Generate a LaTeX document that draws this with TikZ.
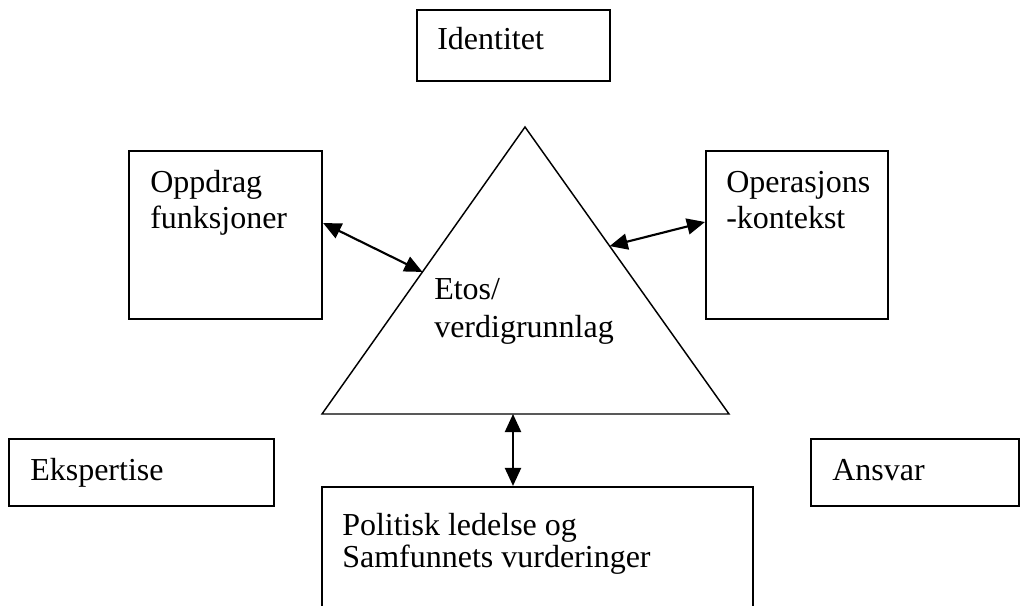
\documentclass[tikz,border=0pt]{standalone}
\usepackage{fontspec}
\setmainfont{Liberation Serif}
\usetikzlibrary{fit,arrows.meta,calc}
\begin{document}
\begin{tikzpicture}[x=0.75pt,y=-0.75pt,
  box/.style={draw,line width=1.6pt,inner sep=0pt},
  lbl/.style={anchor=base west,inner sep=0pt,font=\fontsize{24}{27}\selectfont},
  dbl/.style={line width=1.6pt,{Triangle[length=13.5pt,width=12pt]}-{Triangle[length=13.5pt,width=12pt]}}]
\clip (0,0) rectangle (1029,606);
% boxes
\node[box,fit={(417,10) (610,81)}] (ident) {};
\node[box,fit={(129,151) (322,319)}] (oppdrag) {};
\node[box,fit={(706,151) (888,319)}] (oper) {};
\node[box,fit={(9,439) (274,506)}] (eksp) {};
\node[box,fit={(811,439) (1019,506)}] (ansvar) {};
\node[box,fit={(322,487) (753,640)}] (polit) {};
% triangle
\coordinate (tA) at (525,127);
\coordinate (tL) at (322,414);
\coordinate (tR) at (729,414);
\draw[line width=1.1pt,line join=miter] (tL) -- (tA) -- (tR) -- cycle;
\coordinate (pL) at ($(tL)!0.495!(tA)$);
\coordinate (pR) at ($(tR)!0.585!(tA)$);
\coordinate (pB) at (513,414);
% labels
\node[lbl] (tident) at (437,50) {Identitet};
\node[lbl] (topp1) at (150,193) {Oppdrag};
\node[lbl] (topp2) at (150,229) {funksjoner};
\node[lbl] (toper1) at (726,193) {Operasjons};
\node[lbl] (toper2) at (726,229) {-kontekst};
\node[lbl] (tetos1) at (434,300) {Etos/};
\node[lbl] (tetos2) at (434,337) {verdigrunnlag};
\node[lbl] (teksp) at (30,480) {Ekspertise};
\node[lbl] (tansv) at (832,480) {Ansvar};
\node[lbl] (tpol1) at (342,535) {Politisk ledelse og};
\node[lbl] (tpol2) at (342,567) {Samfunnets vurderinger};
% connectors
\draw[dbl] (oppdrag.east |- 0,223) coordinate (oL) -- (pL);
\draw[dbl] (pR) -- (oper.west |- 0,222);
\draw[dbl] (pB) -- (pB |- polit.north);
\end{tikzpicture}
\end{document}
